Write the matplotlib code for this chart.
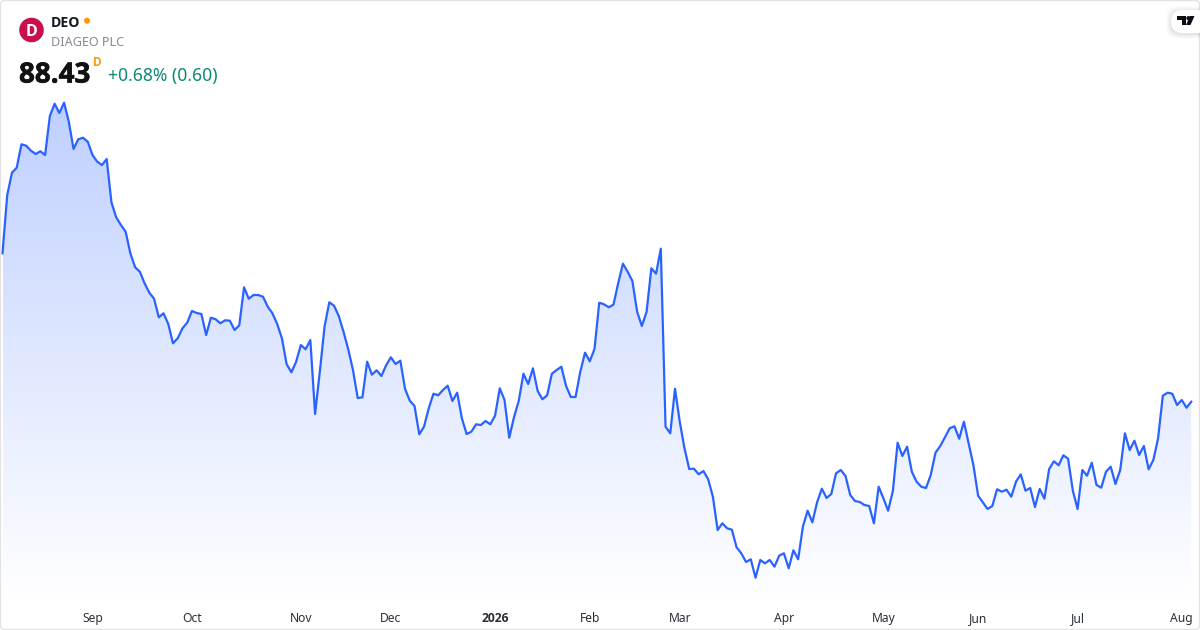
import numpy as np
import matplotlib
matplotlib.use("Agg")
import matplotlib.pyplot as plt
import matplotlib.patheffects as pe
from matplotlib.patches import FancyBboxPatch, Circle, Polygon
from matplotlib.colors import LinearSegmentedColormap

plt.rcParams['font.family'] = ['Noto Sans', 'Open Sans', 'DejaVu Sans']
BOLD_FONT = ['Open Sans', 'DejaVu Sans']

symbol = "DEO"
company = "DIAGEO PLC"
last_price = "88.43"
change_text = "+0.68% (0.60)"

closes = [
    103.27, 109.10, 111.33, 111.83, 114.17, 114.03, 113.53, 113.20, 113.47, 113.10,
    117.00, 118.23, 117.30, 118.33, 116.43, 113.70, 114.67, 114.83, 114.43, 113.10,
    112.43, 112.10, 112.70, 108.37, 106.87, 106.10, 105.43, 103.27, 101.87, 101.43,
    100.27, 99.33, 98.73, 96.87, 97.27, 96.20, 94.27, 94.77, 95.77, 96.33,
    97.50, 97.30, 97.20, 95.10, 96.83, 96.67, 96.27, 96.57, 96.53, 95.60,
    96.07, 99.87, 98.73, 99.10, 99.10, 98.93, 97.93, 97.27, 96.20, 94.77,
    92.17, 91.37, 92.43, 94.10, 93.67, 94.60, 87.20, 91.43, 95.93, 98.37,
    98.03, 97.00, 95.43, 93.67, 91.60, 88.80, 88.87, 92.43, 91.13, 91.57,
    91.00, 92.07, 92.87, 92.20, 92.53, 89.70, 88.53, 88.00, 85.17, 85.93,
    87.77, 89.23, 89.07, 89.60, 90.03, 88.50, 89.33, 86.77, 85.20, 85.43,
    86.17, 86.10, 86.50, 86.17, 87.03, 89.77, 88.60, 84.83, 86.87, 88.50,
    91.23, 90.20, 91.77, 89.50, 88.67, 89.07, 91.23, 91.60, 91.93, 90.00,
    88.90, 88.90, 91.43, 93.33, 92.47, 93.70, 98.33, 98.17, 97.87, 98.13,
    100.27, 102.23, 101.43, 100.50, 97.43, 96.00, 97.43, 101.77, 101.23, 103.73,
    85.93, 85.27, 89.73, 86.43, 83.77, 81.70, 81.73, 81.17, 81.50, 80.67,
    78.93, 75.60, 76.27, 75.77, 75.63, 73.87, 73.27, 72.40, 72.67, 70.83,
    72.60, 72.27, 72.60, 71.93, 73.03, 73.27, 71.77, 73.57, 72.67, 75.93,
    77.53, 76.37, 78.37, 79.73, 78.80, 79.20, 81.27, 81.60, 81.00, 79.10,
    78.50, 78.40, 78.10, 78.00, 76.27, 79.93, 78.77, 77.53, 79.50, 84.33,
    83.00, 83.93, 81.43, 80.43, 79.93, 79.80, 81.10, 83.33, 84.00, 84.87,
    85.77, 85.97, 84.73, 86.43, 84.27, 82.10, 79.03, 78.37, 77.70, 78.00,
    79.67, 79.43, 79.63, 78.93, 80.43, 81.17, 79.53, 79.80, 77.90, 79.70,
    78.73, 81.70, 82.47, 82.07, 83.07, 82.73, 79.53, 77.70, 81.60, 81.03,
    82.33, 80.10, 79.83, 81.43, 81.93, 80.20, 81.60, 85.27, 83.60, 84.53,
    83.10, 84.00, 81.67, 82.60, 84.77, 89.03, 89.33, 89.23, 88.10, 88.60,
    87.83, 88.43,
]
tick_sessions = [19, 40, 63, 82, 104, 124, 143, 165, 186, 206, 227, 249]
tick_labels = ["Sep", "Oct", "Nov", "Dec", "2026", "Feb", "Mar", "Apr", "May", "Jun", "Jul", "Aug"]

W, H = 1200, 630
STEP = 4.736
X0 = 2.5
fig = plt.figure(figsize=(W / 100, H / 100), dpi=100, facecolor="white")

ax = fig.add_axes([0, 30 / H, 1, 600 / H])
x = np.arange(len(closes))
y = np.array(closes)
ax.set_xlim(-X0 / STEP, (W - X0) / STEP)
ax.set_ylim(68.6, 128.6)
for s in ax.spines.values():
    s.set_visible(False)
ax.set_yticks([])
ax.set_xticks(tick_sessions)
ax.set_xticklabels(tick_labels, fontsize=8.7, color="#2a2e39")
ax.tick_params(axis="x", length=0, pad=8.5)
for lab, txt in zip(ax.get_xticklabels(), tick_labels):
    if txt == "2026":
        lab.set_fontweight("bold")
        lab.set_family(BOLD_FONT)

cmap = LinearSegmentedColormap.from_list("area", ["#ffffff", "#bfd0ff"])
grad = np.linspace(1, 0, 256).reshape(-1, 1)
img = ax.imshow(grad, cmap=cmap, vmin=0, vmax=1, aspect="auto",
                extent=[x[0], x[-1], 68.6, max(closes)], zorder=1)
clip = Polygon(np.column_stack([np.r_[x, x[-1], x[0]], np.r_[y, 68.6, 68.6]]),
               closed=True, transform=ax.transData)
img.set_clip_path(clip)
ax.set_xlim(-X0 / STEP, (W - X0) / STEP)
ax.set_ylim(68.6, 128.6)
ax.plot(x, y, color="#2962ff", lw=1.6, zorder=2, solid_joinstyle="round", clip_on=False)

ov = fig.add_axes([0, 0, 1, 1], zorder=5)
ov.set_xlim(0, W)
ov.set_ylim(H, 0)
ov.axis("off")
ov.patch.set_alpha(0)

ov.add_patch(FancyBboxPatch((0.5, 0.5), W - 1, H - 1, boxstyle="round,pad=0,rounding_size=4",
                            fc="none", ec="#e3e3e3", lw=1))
ov.add_patch(Circle((31.5, 30), 12.3, fc="#c8104f", ec="none"))
ov.text(31.8, 30, "D", color="white", fontsize=11.5, fontweight="bold", family=BOLD_FONT,
        ha="center", va="center_baseline")
ov.text(51, 21.5, symbol, fontsize=10.1, fontweight="bold", family=BOLD_FONT, color="#131722",
        ha="left", va="center_baseline")
ov.add_patch(Circle((87, 20.7), 3, fc="#ff9800", ec="none"))
ov.text(51, 40.5, company, fontsize=9.1, color="#868993", ha="left", va="center_baseline")
ov.text(19, 71.5, last_price, fontsize=20, fontweight="bold", family=BOLD_FONT, color="#111111",
        ha="left", va="center_baseline",
        path_effects=[pe.withStroke(linewidth=0.5, foreground="#111111")])
ov.text(93, 61.5, "D", fontsize=8.5, fontweight="bold", family=BOLD_FONT, color="#ff9800",
        ha="left", va="center_baseline")
ov.text(108, 74.5, change_text, fontsize=12.6, color="#0b8a73", ha="left", va="center_baseline")

for pad, a in [(5, 0.012), (4, 0.015), (3, 0.02), (2, 0.025), (1, 0.03)]:
    ov.add_patch(FancyBboxPatch((1171 - pad, 10 - pad + 1), 40 + pad, 23 + 2 * pad,
                                boxstyle="round,pad=0,rounding_size=12", fc="black", ec="none", alpha=a))
ov.add_patch(FancyBboxPatch((1171, 10), 40, 23, boxstyle="round,pad=0,rounding_size=11.5",
                            fc="white", ec="none"))
ov.add_patch(Polygon([(1177.3, 16), (1186, 16), (1186, 25), (1181.6, 25), (1181.6, 20.3), (1177.3, 20.3)], fc="#0c0e15", ec="none"))
ov.add_patch(Circle((1188.4, 18.2), 2.1, fc="#0c0e15", ec="none"))
ov.add_patch(Polygon([(1190, 16), (1194.5, 16), (1190.5, 25), (1186, 25)], fc="#0c0e15", ec="none"))

fig.savefig("out.png", dpi=100, facecolor="white")
